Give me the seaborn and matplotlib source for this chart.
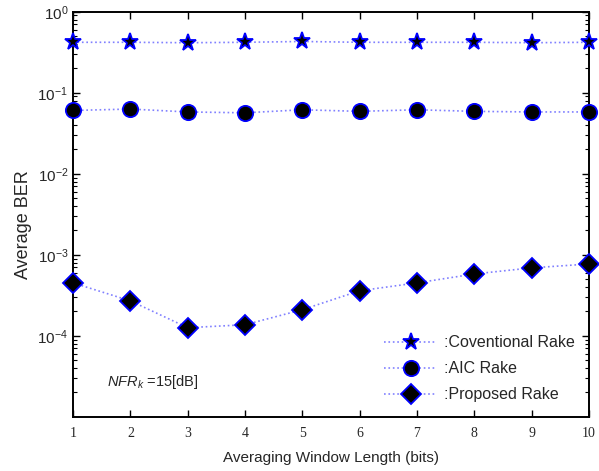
import numpy as np
import pandas as pd
import matplotlib
matplotlib.use('Agg')
import matplotlib.pyplot as plt
import matplotlib.ticker as mticker
import seaborn as sns

# values
window = [1, 2, 3, 4, 5, 6, 7, 8, 9, 10]
conventional = [0.42, 0.42, 0.415, 0.42, 0.43, 0.42, 0.42, 0.42, 0.415, 0.42]
aic = [0.0605, 0.063, 0.058, 0.0566, 0.0617, 0.059, 0.0617, 0.059, 0.058, 0.058]
proposed = [4.5e-4, 2.7e-4, 1.26e-4, 1.37e-4, 2.1e-4, 3.6e-4, 4.5e-4, 5.8e-4, 6.9e-4, 7.7e-4]

series_names = [':Coventional Rake', ':AIC Rake', ':Proposed Rake']
series_vals = [conventional, aic, proposed]
series_markers = ['*', 'o', 'D']
series_sizes = [12.5, 11, 10]

sns.set_style('ticks')
plt.rcParams['font.family'] = ['Liberation Sans', 'DejaVu Sans']
plt.rcParams['mathtext.fontset'] = 'custom'
plt.rcParams['mathtext.rm'] = 'Liberation Sans'
plt.rcParams['mathtext.it'] = 'Liberation Sans:italic'

fig = plt.figure(figsize=(5.99, 4.71), dpi=100)
ax = fig.add_axes([0.122, 0.115, 0.861, 0.86])

for name, vals, mk, ms in zip(series_names, series_vals, series_markers, series_sizes):
    df = pd.DataFrame({'x': window, 'y': vals})
    sns.lineplot(data=df, x='x', y='y', ax=ax, label=name,
                 color='#8080ff', linestyle=':', linewidth=1.2,
                 marker=mk, markersize=ms, markerfacecolor='black',
                 markeredgecolor='#0000ff', markeredgewidth=1.3,
                 clip_on=False, zorder=3)

ax.set_yscale('log')
ax.set_ylim(1e-5, 1)
ax.set_xlim(1, 10)
ax.set_yticks([1e-4, 1e-3, 1e-2, 1e-1, 1])
ax.yaxis.set_minor_locator(mticker.LogLocator(base=10, subs=np.arange(2, 10)))
ax.yaxis.set_minor_formatter(mticker.NullFormatter())
ax.set_xticks(window)
ax.set_xticklabels([str(w) for w in window], fontfamily='Liberation Serif', fontsize=10)

ax.tick_params(which='both', direction='in', top=True, right=True, color='black')
ax.tick_params(which='major', length=5, width=1)
ax.tick_params(which='minor', length=3, width=0.8)
ax.tick_params(axis='y', labelsize=11)
ax.tick_params(axis='x', pad=7)
for sp in ax.spines.values():
    sp.set_linewidth(1.4)
    sp.set_color('black')

ax.set_xlabel('Averaging Window Length (bits)', fontsize=11, labelpad=8)
ax.set_ylabel('Average BER', fontsize=13)
ax.yaxis.set_label_coords(-0.08, 0.475)

ax.text(1.6, 2.4e-5, r'$\mathit{NFR}_{k}$ =15[dB]', fontsize=10.5)

leg = ax.legend(loc='lower right', frameon=False, fontsize=11.5, handlelength=3.3,
                handletextpad=0.4, labelspacing=0.7, borderaxespad=0.5,
                bbox_to_anchor=(1.0, 0.0))

fig.savefig('out.png', dpi=100)
